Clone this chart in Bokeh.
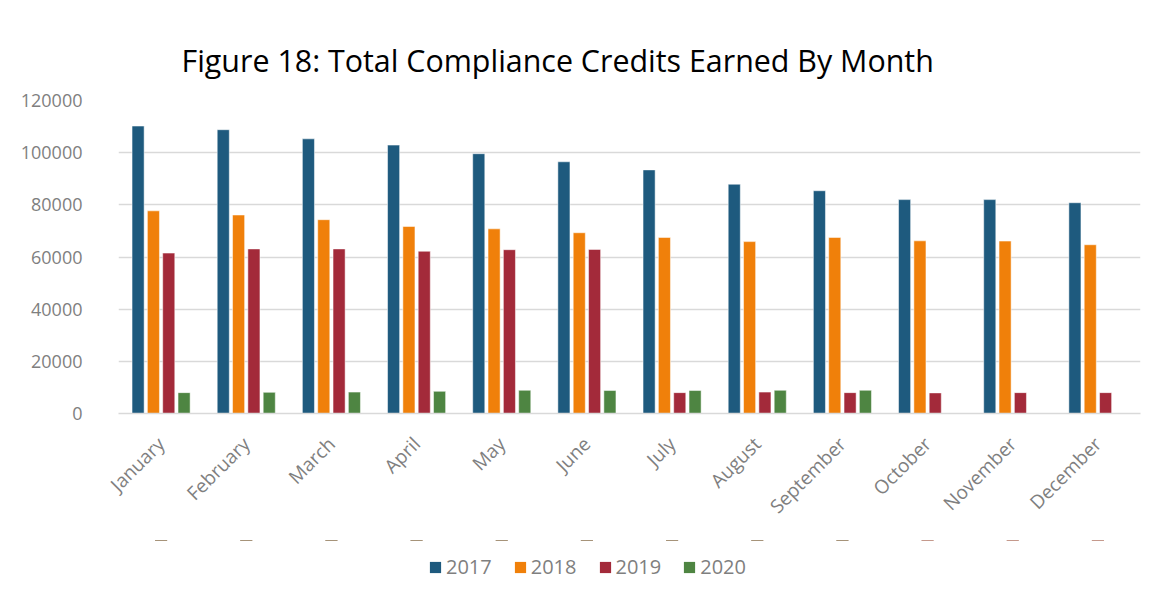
import math
import numpy as np
from bokeh.plotting import figure
from bokeh.layouts import column
from bokeh.models import (ColumnDataSource, FactorRange, Range1d, NumeralTickFormatter,
                          FixedTicker, Legend, LegendItem)
from bokeh.transform import dodge
from bokeh.embed import file_html
from bokeh.resources import INLINE

months = ["January", "February", "March", "April", "May", "June", "July",
          "August", "September", "October", "November", "December"]
years = ["2017", "2018", "2019", "2020"]
v2017 = [110200, 108800, 105300, 102900, 99600, 96500, 93400, 87900, 85400, 82000, 82000, 80800]
v2018 = [77700, 76100, 74300, 71700, 70800, 69300, 67500, 65900, 67500, 66200, 66100, 64700]
v2019 = [61500, 63100, 63100, 62200, 62800, 62900, 8000, 8200, 8000, 7900, 8000, 8000]
v2020 = [8000, 8100, 8200, 8500, 8900, 8800, 8800, 8900, 8900, None, None, None]
y_ticks = [0, 20000, 40000, 60000, 80000, 100000, 120000]
colors = ["#1E5A7E", "#F0800A", "#A32A3A", "#4E8542"]

def arr(v):
    return np.array([np.nan if x is None else x for x in v], dtype=float)

src = ColumnDataSource(dict(month=months, y2017=arr(v2017), y2018=arr(v2018),
                            y2019=arr(v2019), y2020=arr(v2020)))

FONT = "Open Sans"
GRAY = "#7F7F7F"

p = figure(x_range=FactorRange(*months, range_padding=0), y_range=Range1d(0, 120000),
           width=1160, height=540, output_backend="svg", toolbar_location=None,
           title="Figure 18: Total Compliance Credits Earned By Month",
           min_border_left=118, min_border_right=20, min_border_top=100,
           min_border_bottom=127)

p.title.text_font = FONT
p.title.text_font_size = "30.4px"
p.title.text_font_style = "normal"
p.title.text_color = "#000000"
p.title.align = "left"
p.title.offset = 63
p.title.standoff = 39

offsets = [-0.27, -0.09, 0.09, 0.27]
for yr, off, c in zip(years, offsets, colors):
    p.vbar(x=dodge("month", off, range=p.x_range), top="y" + yr, width=0.142, source=src,
           fill_color=c, line_color="white", line_alpha=0.5, line_width=1)

p.outline_line_color = None
p.xgrid.grid_line_color = None
p.ygrid.grid_line_color = "#D9D9D9"
p.ygrid.grid_line_width = 1.5
p.yaxis.ticker = FixedTicker(ticks=y_ticks)
p.yaxis.formatter = NumeralTickFormatter(format="0")
p.yaxis.axis_line_color = None
p.yaxis.major_tick_line_color = None
p.yaxis.major_tick_out = 0
p.yaxis.minor_tick_line_color = None
p.yaxis.major_label_text_font = FONT
p.yaxis.major_label_text_font_size = "18px"
p.yaxis.major_label_text_color = GRAY
p.yaxis.major_label_standoff = 36

p.xaxis.axis_line_color = "#D9D9D9"
p.xaxis.axis_line_width = 1.5
p.xaxis.major_tick_line_color = None
p.xaxis.major_tick_out = 0
p.xaxis.minor_tick_line_color = None
p.xaxis.major_label_orientation = math.pi / 4
p.xaxis.major_label_text_font = FONT
p.xaxis.major_label_text_font_size = "19px"
p.xaxis.major_label_text_color = GRAY
p.xaxis.major_label_standoff = 27

# legend strip below the chart: zero-height bars far outside its view supply the swatches
p2 = figure(x_range=FactorRange(*months, range_padding=0), y_range=Range1d(0, 1),
            width=1160, height=60, output_backend="svg", toolbar_location=None,
            x_axis_location=None, y_axis_location=None, min_border=0)
p2.outline_line_color = None
p2.grid.visible = False
leg_renderers = []
for yr, c in zip(years, colors):
    r = p2.vbar(x="month", top="y" + yr, bottom="y" + yr, width=0.142, source=src,
                fill_color=c, line_color=None)
    leg_renderers.append(r)

leg = Legend(items=[LegendItem(label=yr, renderers=[r]) for yr, r in zip(years, leg_renderers)],
             orientation="horizontal", location=(310, 20))
leg.border_line_color = None
leg.background_fill_alpha = 0
leg.label_text_font = FONT
leg.label_text_font_size = "20px"
leg.label_text_color = GRAY
leg.glyph_width = 14
leg.glyph_height = 14
leg.label_standoff = 4
leg.spacing = 21
leg.padding = 0
leg.margin = 0
p2.add_layout(leg, "center")

layout = column(p, p2, spacing=0)
open("out.html", "w").write(file_html(layout, INLINE))
